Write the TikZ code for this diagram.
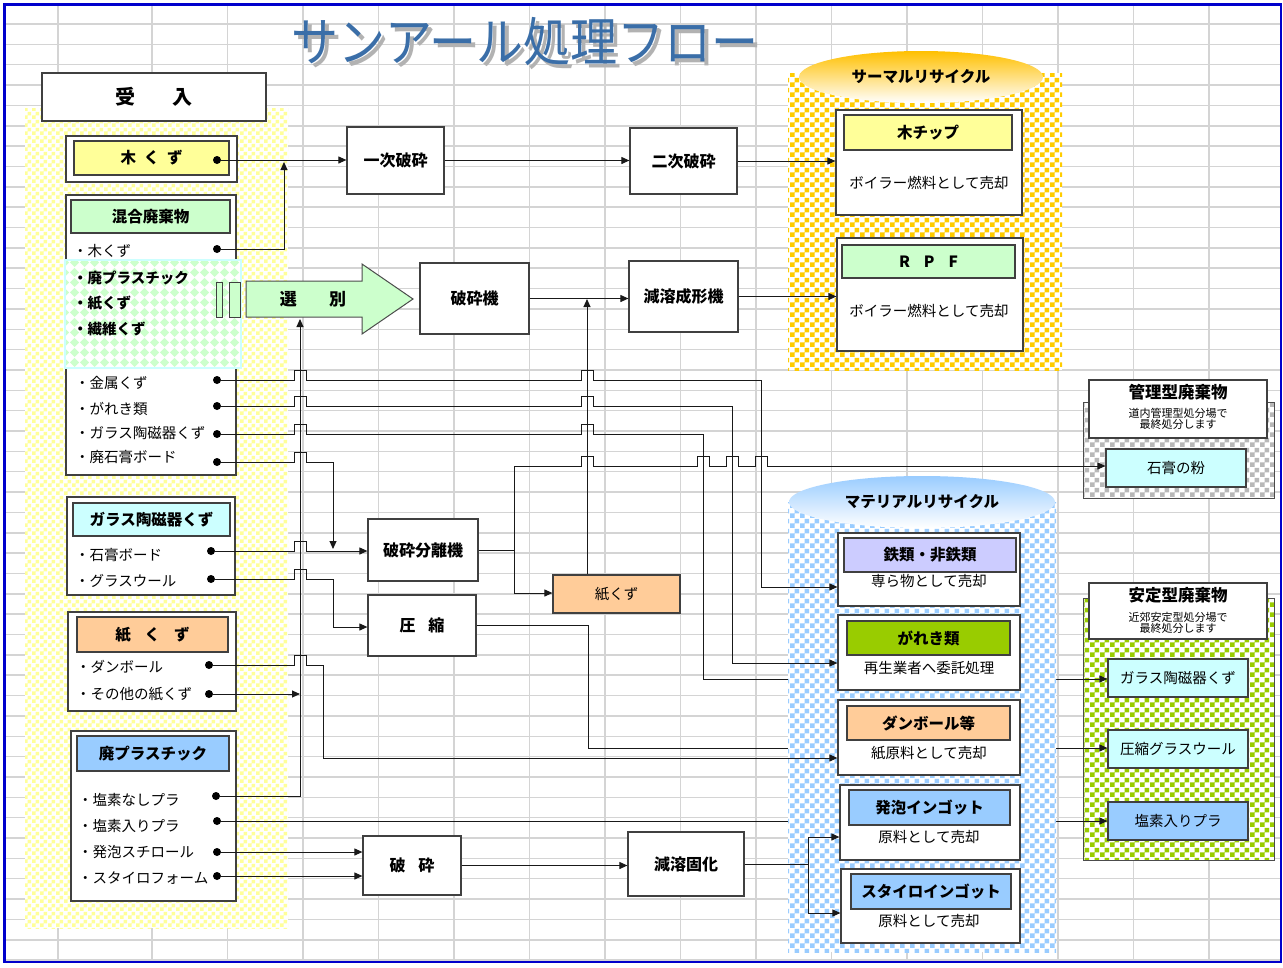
\documentclass[tikz,border=0pt]{standalone}
\usepackage{fontspec}
\setmainfont{Noto Sans CJK JP}
\usepackage{graphicx}
\usetikzlibrary{arrows.meta,patterns,fit,shapes.geometric}

\definecolor{cYel}{HTML}{FFFF99}
\definecolor{cGrnL}{HTML}{CCFFCC}
\definecolor{cCyan}{HTML}{CCFFFF}
\definecolor{cOrgL}{HTML}{FFCC99}
\definecolor{cBlue}{HTML}{99CCFF}
\definecolor{cLav}{HTML}{CCCCFF}
\definecolor{cGrnD}{HTML}{99CC00}
\definecolor{cOrg}{HTML}{FFCC00}
\definecolor{cGray}{HTML}{B8B8B8}
\definecolor{cTitle}{HTML}{3A6EA8}
\definecolor{cFrame}{HTML}{0000CC}
\definecolor{cEllO}{HTML}{FFC000}

\pgfdeclarepatternformonly{chkA}{\pgfqpoint{0pt}{0pt}}{\pgfqpoint{8pt}{8pt}}{\pgfqpoint{8pt}{8pt}}{%
  \pgfpathrectangle{\pgfqpoint{0pt}{0pt}}{\pgfqpoint{4pt}{4pt}}%
  \pgfpathrectangle{\pgfqpoint{4pt}{4pt}}{\pgfqpoint{4pt}{4pt}}%
  \pgfusepath{fill}}
\pgfdeclarepatternformonly{chkB}{\pgfqpoint{0pt}{0pt}}{\pgfqpoint{10pt}{10pt}}{\pgfqpoint{10pt}{10pt}}{%
  \pgfpathrectangle{\pgfqpoint{0pt}{0pt}}{\pgfqpoint{5pt}{5pt}}%
  \pgfpathrectangle{\pgfqpoint{5pt}{5pt}}{\pgfqpoint{5pt}{5pt}}%
  \pgfusepath{fill}}
\pgfdeclarepatternformonly{diaP}{\pgfqpoint{0pt}{0pt}}{\pgfqpoint{10pt}{10pt}}{\pgfqpoint{10pt}{10pt}}{%
  \pgfpathmoveto{\pgfqpoint{5pt}{0pt}}\pgfpathlineto{\pgfqpoint{10pt}{5pt}}%
  \pgfpathlineto{\pgfqpoint{5pt}{10pt}}\pgfpathlineto{\pgfqpoint{0pt}{5pt}}\pgfpathclose
  \pgfusepath{fill}}

% bridge (line jump) over a vertical line at x=#1 on a horizontal line at y=#2
\newcommand\brg[2]{-- ({#1-6},{#2}) -- ({#1-6},{#2-10}) -- ({#1+6},{#2-10}) -- ({#1+6},{#2})}
% box from corner (#3,#4) to (#5,#6), named #2, with centred text #7
\newcommand\bxt[7]{\node[#1, fit={(#3,#4) (#5,#6)}] (#2) {};
  \node[#1, draw=none, fill=none, inner sep=0pt, minimum size=0pt] (#2T) at (#2.center) {#7};}

\tikzset{
  gridl/.style={line width=1.5pt, draw=black!17},
  bx/.style={draw=black!75, line width=1.2pt, fill=white, inner sep=0pt},
  hd/.style={draw=black!75, line width=1.2pt, inner sep=0pt, font=\bfseries\fontsize{15.5}{18}\selectfont},
  itm/.style={anchor=west, inner sep=0pt, font=\fontsize{14.5}{17}\selectfont},
  itb/.style={anchor=west, inner sep=0pt, font=\bfseries\fontsize{14.5}{17}\selectfont},
  body/.style={inner sep=0pt, font=\fontsize{14.5}{17}\selectfont},
  pbox/.style={bx, font=\bfseries\fontsize{16}{18}\selectfont},
  cn/.style={line width=1pt, draw=black!90},
  ar/.style={cn, -{Triangle[length=8pt,width=7pt]}},
  dt/.style={circle, fill=black, inner sep=0pt, minimum size=8pt},
  chk/.style={preaction={fill=white}, pattern=#1},
}

\begin{document}
\begin{tikzpicture}[x=1pt,y=-1pt]
\useasboundingbox (0,0) rectangle (1283,967);
\fill[white] (0,0) rectangle (1283,967);
% spreadsheet grid
\foreach \gx in {58,152,227.5,303,378.5,454,529.5,605,680.5,756,831.5,907,982.5,1058,1133.5,1209}
  \draw[gridl] (\gx,5) -- (\gx,962);
\foreach \k in {0,...,46}
  \draw[gridl] (5,24+20.35*\k) -- (1281,24+20.35*\k);
% frame
\draw[cFrame, line width=2.5pt] (4.5,4.5) rectangle (1281,962);
% title with its shadow
\node[text=black!30, font=\fontsize{47}{50}\selectfont] (titleS) at (529,46) {\scalebox{1}[1.12]{サンアール処理フロー}};
\node[text=cTitle, font=\fontsize{47}{50}\selectfont] (title) at (525,42) {\scalebox{1}[1.12]{サンアール処理フロー}};

% ---------- background regions ----------
\path[chk=chkA, pattern color=cYel] (25,108) rectangle (288,928);
\path[chk=chkB, pattern color=cOrg] (788,73) rectangle (1062,370);
\path[chk=chkB, pattern color=cGray, draw=black!70, line width=1pt] (1083,402) rectangle (1274,498);
\path[chk=chkB, pattern color=cGrnD, draw=black!70, line width=1pt] (1083,598) rectangle (1274,860);

% ---------- thermal recycle ----------
\node[ellipse, minimum width=244, minimum height=52, inner sep=0pt, top color=cEllO, bottom color=white, font=\bfseries\fontsize{15.5}{18}\selectfont] (thermT) at (921,77) {サーマルリサイクル};
\node[bx, fit={(836,110) (1022,215)}] (chipO) {};
\bxt{hd, fill=cYel}{chipH}{844}{115}{1012}{150}{木チップ}
\node[body] (chipB) at (929,183) {ボイラー燃料として売却};
\node[bx, fit={(837,238) (1023,351)}] (rpfO) {};
\bxt{hd, fill=cGrnL}{rpfH}{842}{245}{1015}{278}{R\hspace{0.9em}P\hspace{0.9em}F}
\node[body] (rpfB) at (929,311) {ボイラー燃料として売却};

% ---------- managed / stable disposal ----------
\node[bx, fit={(1089,380) (1267,438)}] (kanriT) {};
\node[font=\bfseries\fontsize{16.5}{18}\selectfont, inner sep=0pt] (kanriL) at (1178,392) {管理型廃棄物};
\node[font=\fontsize{11}{11.5}\selectfont, align=center, inner sep=0pt] (kanriS) at (1178,419) {道内管理型処分場で\\最終処分します};
\bxt{bx, fill=cCyan, font=\fontsize{14.5}{17}\selectfont}{sekkoKona}{1106}{449}{1246}{487}{石膏の粉}

\node[bx, fit={(1089,583) (1267,639)}] (anteiT) {};
\node[font=\bfseries\fontsize{16.5}{18}\selectfont, inner sep=0pt] (anteiL) at (1178,595) {安定型廃棄物};
\node[font=\fontsize{11}{11.5}\selectfont, align=center, inner sep=0pt] (anteiS) at (1178,623) {近郊安定型処分場で\\最終処分します};
\bxt{bx, fill=cCyan, font=\fontsize{14.5}{17}\selectfont}{anteiGlass}{1108}{659}{1248}{697}{ガラス陶磁器くず}
\bxt{bx, fill=cCyan, font=\fontsize{14.5}{17}\selectfont}{anteiGW}{1108}{730}{1248}{768}{圧縮グラスウール}
\bxt{bx, fill=cBlue, font=\fontsize{14.5}{17}\selectfont}{anteiEnso}{1108}{802}{1248}{840}{塩素入りプラ}

% ---------- left column ----------
\bxt{bx, font=\bfseries\fontsize{20}{22}\selectfont}{ukeire}{42}{73}{266}{121}{受\hspace{1.85em}入}

\node[bx, fit={(66,136) (237,182)}] (mokuO) {};
\bxt{hd, fill=cYel}{mokuH}{74}{141}{229}{175}{木\hspace{0.5em}く\hspace{0.5em}ず}

\node[bx, fit={(66,195) (236,475)}] (kongoO) {};
\bxt{hd, fill=cGrnL}{kongoH}{71}{200}{230}{233}{混合廃棄物}
\node[itm] (k1) at (73,251) {・木くず};
\path[chk=diaP, pattern color=cGrnL, draw=cCyan, line width=1.5pt] (65,260) rectangle (241,368);
\node[itb] (k2) at (73,278) {・廃プラスチック};
\node[itb] (k3) at (73,303) {・紙くず};
\node[itb] (k4) at (73,329) {・繊維くず};
\node[itm] (k5) at (75,383) {・金属くず};
\node[itm] (k6) at (75,409) {・がれき類};
\node[itm] (k7) at (75,433) {・ガラス陶磁器くず};
\node[itm] (k8) at (75,457) {・廃石膏ボード};

\node[bx, fit={(67,497) (235,595)}] (glassO) {};
\bxt{hd, fill=cCyan}{glassH}{73}{503}{230}{536}{ガラス陶磁器くず}
\node[itm] (g1) at (75,555) {・石膏ボード};
\node[itm] (g2) at (75,581) {・グラスウール};

\node[bx, fit={(68,612) (236,711)}] (kamiBoxO) {};
\bxt{hd, fill=cOrgL}{kamiBoxH}{77}{617}{228}{652}{紙\hspace{0.9em}く\hspace{0.9em}ず}
\node[itm] (p1) at (76,667) {・ダンボール};
\node[itm] (p2) at (76,694) {・その他の紙くず};

\node[bx, fit={(71,731) (236,901)}] (plaO) {};
\bxt{hd, fill=cBlue}{plaH}{77}{736}{229}{771}{廃プラスチック}
\node[itm] (q1) at (78,800) {・塩素なしプラ};
\node[itm] (q2) at (78,826) {・塩素入りプラ};
\node[itm] (q3) at (78,852) {・発泡スチロール};
\node[itm] (q4) at (78,878) {・スタイロフォーム};

% dots
\node[dt] (dMoku) at (217,160) {};
\node[dt] (dKonMoku) at (217,249) {};
\node[dt] (dKinzoku) at (217,380) {};
\node[dt] (dGareki) at (217,406) {};
\node[dt] (dGlass) at (217,434) {};
\node[dt] (dHaiSekko) at (217,462) {};
\node[dt] (dSekko) at (211,551) {};
\node[dt] (dGlassWool) at (211,579) {};
\node[dt] (dDanbo) at (209,665) {};
\node[dt] (dSonota) at (209,694) {};
\node[dt] (dEnsoNashi) at (216,796) {};
\node[dt] (dEnsoIri) at (217,821) {};
\node[dt] (dHappo) at (217,852) {};
\node[dt] (dStyro) at (217,876) {};

% selector bars and sorting arrow
\node[bx, fill=cGrnL, line width=1pt, fit={(216,282) (222,317)}] (bar1) {};
\node[bx, fill=cGrnL, line width=1pt, fit={(229,282) (240,317)}] (bar2) {};
\draw[fill=cGrnL, draw=black!70, line width=1pt] (246,281) -- (362,281) -- (362,264) -- (413,299) -- (362,334) -- (362,317) -- (246,317) -- cycle;
\node[font=\bfseries\fontsize{17}{18}\selectfont, inner sep=0pt] (senbetsu) at (313,299) {選\hspace{1.9em}別};

% ---------- process boxes ----------
\bxt{pbox}{ichiji}{347}{127}{444}{194}{一次破砕}
\bxt{pbox}{niji}{630}{128}{737}{194}{二次破砕}
\bxt{pbox}{hasaiki}{420}{263}{529}{334}{破砕機}
\bxt{pbox}{genyo}{629}{261}{738}{332}{減溶成形機}
\bxt{pbox}{bunri}{368}{519}{478}{581}{破砕分離機}
\bxt{pbox}{asshuku}{368}{595}{476}{656}{圧\hspace{0.8em}縮}
\bxt{bx, fill=cOrgL, font=\fontsize{14.5}{17}\selectfont}{kamiO}{553}{575}{680}{613}{紙くず}
\bxt{pbox}{hasai2}{363}{836}{461}{895}{破\hspace{0.8em}砕}
\bxt{pbox}{koka}{628}{832}{744}{896}{減溶固化}

% junction coordinates
\coordinate (jMoku) at (284,162);
\coordinate (j300) at (300,319);
\coordinate (j587) at (587,299);
\coordinate (jSekko) at (333,549);
\coordinate (jBunri) at (514,550);
\coordinate (jAss) at (588,748);
\coordinate (jKoka) at (808,864);

% ---------- connectors passing behind the material cylinder ----------
\draw[ar] (dGlass) \brg{300}{434} \brg{587}{434} -- (703,434) -- (703,679) -- (anteiGlass.west |- 0,679);
\draw[ar] (asshuku.east) -| (jAss) -- (anteiGW.west |- jAss);
\draw[ar] (dEnsoIri) -- (dEnsoIri -| anteiEnso.west);

% ---------- material recycle cylinder ----------
\path[chk=chkB, pattern color=cBlue] (788,502) rectangle (1056,952);
\node[ellipse, minimum width=266, minimum height=52, inner sep=0pt, top color=cBlue, bottom color=white, font=\bfseries\fontsize{15.5}{18}\selectfont] (matT) at (922,502) {マテリアルリサイクル};

\node[bx, fit={(838,533) (1020,606)}] (tetsuO) {};
\bxt{hd, fill=cLav}{tetsuH}{844}{538}{1016}{572}{鉄類・非鉄類}
\node[body] (tetsuB) at (929,581) {専ら物として売却};
\node[bx, fit={(838,615) (1020,690)}] (garekiO) {};
\bxt{hd, fill=cGrnD}{garekiH}{847}{621}{1010}{655}{がれき類}
\node[body] (garekiB) at (929,668) {再生業者へ委託処理};
\node[bx, fit={(838,700) (1020,775)}] (danboO) {};
\bxt{hd, fill=cOrgL}{danboH}{847}{706}{1010}{740}{ダンボール等}
\node[body] (danboB) at (929,753) {紙原料として売却};
\node[bx, fit={(840,785) (1020,860)}] (happoO) {};
\bxt{hd, fill=cBlue}{happoH}{849}{790}{1010}{825}{発泡インゴット}
\node[body] (happoB) at (929,837) {原料として売却};
\node[bx, fit={(841,869) (1020,943)}] (styroO) {};
\bxt{hd, fill=cBlue}{styroH}{851}{874}{1011}{909}{スタイロインゴット}
\node[body] (styroB) at (929,921) {原料として売却};

% ---------- other connectors ----------
\draw[ar] (dMoku) -- (dMoku -| ichiji.west);
\draw[ar] (dKonMoku) -- (284,249) -- (jMoku);
\draw[ar] (ichiji.east) -- (ichiji.east -| niji.west);
\draw[ar] (niji.east) -- (niji.east -| chipO.west);
\draw[ar] (hasaiki.east) -- (hasaiki.east -| genyo.west);
\draw[ar] (genyo.east) -- (genyo.east -| rpfO.west);
\draw[ar] (kamiO.north -| j587) -- (j587);
\draw[ar] (dEnsoNashi) -| (j300);
\draw[ar] (dSonota) -- (dSonota -| j300);
\draw[ar] (dKinzoku) \brg{300}{380} \brg{587}{380} -- (761,380) -- (761,587) -- (tetsuO.west |- 0,587);
\draw[ar] (dGareki) \brg{300}{406} \brg{587}{406} -- (732,406) -- (732,663) -- (garekiO.west |- 0,663);
\draw[ar] (dHaiSekko) \brg{300}{462} -- (333,462) -- (jSekko);
\draw[ar] (dSekko) \brg{300}{551} -- (bunri.west |- 0,551);
\draw[ar] (dGlassWool) \brg{300}{579} -- (333,579) -- (333,627) -- (asshuku.west |- 0,627);
\draw[ar] (dDanbo) \brg{300}{665} -- (323,665) -- (323,758) -- (danboO.west |- 0,758);
\draw[ar] (bunri.east) -- (jBunri) -- (514,466) \brg{587}{466} \brg{703}{466} \brg{732}{466} \brg{761}{466} -- (sekkoKona.west |- 0,466);
\draw[ar] (jBunri) -- (514,593) -- (kamiO.west |- 0,593);
\draw[ar] (dHappo) -- (dHappo -| hasai2.west);
\draw[ar] (dStyro) -- (dStyro -| hasai2.west);
\draw[ar] (hasai2.east) -- (hasai2.east -| koka.west);
\draw[cn] (koka.east) -- (jKoka);
\draw[ar] (jKoka) |- (happoO.west |- 0,837);
\draw[ar] (jKoka) |- (styroO.west |- 0,913);
\end{tikzpicture}
\end{document}
